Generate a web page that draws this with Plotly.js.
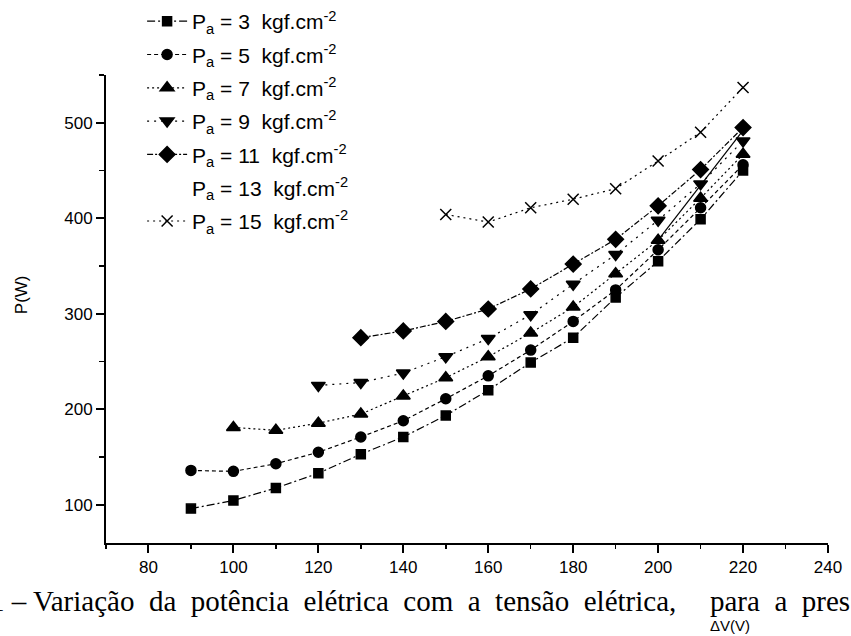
<!DOCTYPE html>
<html>
<head>
<meta charset="utf-8">
<script src="https://cdn.plot.ly/plotly-3.0.1.min.js"></script>
<style>html,body{margin:0;padding:0;background:#fff;}#chart{width:851px;height:636px;}</style>
</head>
<body>
<div id="chart"></div>
<script>
// Voltage (V) and electrical power (W) for each pressure
const volts3 = [90, 100, 110, 120, 130, 140, 150, 160, 170, 180, 190, 200, 210, 220];
const power3 = [96, 104.5, 117.5, 133, 153, 171, 193.5, 220, 249, 275, 317, 355, 399, 450];
const volts5 = [90, 100, 110, 120, 130, 140, 150, 160, 170, 180, 190, 200, 210, 220];
const power5 = [136, 135, 143, 155, 171, 188, 211, 235, 262, 292, 325, 367, 411, 456];
const volts7 = [100, 110, 120, 130, 140, 150, 160, 170, 180, 190, 200, 210, 220];
const power7 = [181, 178, 185.5, 195, 214, 233, 255, 280, 307, 342, 377, 421, 467];
const volts9 = [120, 130, 140, 150, 160, 170, 180, 190, 200, 210, 220];
const power9 = [225, 228, 238, 255, 274, 299, 331, 362, 398, 436, 481];
const volts11 = [130, 140, 150, 160, 170, 180, 190, 200, 210, 220];
const power11 = [275, 282, 292, 305, 326, 352, 378, 413, 451, 495];
const volts13 = [200, 210, 220];
const power13 = [377, 434, 492];
const volts15 = [150, 160, 170, 180, 190, 200, 210, 220];
const power15 = [404, 396, 411, 420, 431, 460, 490, 537];

const seriesNames = [
  'P<sub>a</sub> = 3  kgf.cm<sup>-2</sup>',
  'P<sub>a</sub> = 5  kgf.cm<sup>-2</sup>',
  'P<sub>a</sub> = 7  kgf.cm<sup>-2</sup>',
  'P<sub>a</sub> = 9  kgf.cm<sup>-2</sup>',
  'P<sub>a</sub> = 11  kgf.cm<sup>-2</sup>',
  'P<sub>a</sub> = 13  kgf.cm<sup>-2</sup>',
  'P<sub>a</sub> = 15  kgf.cm<sup>-2</sup>'
];

const xTickVals = [80, 100, 120, 140, 160, 180, 200, 220, 240];
const yTickVals = [100, 200, 300, 400, 500];

const NB = '\u00A0';
const captionMain = '1 – Variação ' + NB + 'da ' + NB + 'potência ' + NB + 'elétrica ' + NB + 'com ' + NB + 'a ' + NB + 'tensão ' + NB + 'elétrica,';
const captionEnd = 'para ' + NB + 'a ' + NB + 'pres';
const xTitle = 'ΔV(V)';
const yTitle = 'P(W)';

function tr(x, y, name, symbol, size, dash, grp) {
  return {
    x: x, y: y, name: name, type: 'scatter', mode: 'lines+markers',
    legendgroup: grp,
    line: {color: '#000', width: 1.2, dash: dash},
    marker: {symbol: symbol, size: size, color: '#000', line: {color: '#000', width: 1.5}}
  };
}

const data = [
  tr(volts3, power3, seriesNames[0], 'square', 9, '8px,3px,2px,3px', 'g1'),
  tr(volts5, power5, seriesNames[1], 'circle', 10, '4px,3px', 'g2'),
  tr(volts7, power7, seriesNames[2], 'triangle-up', 12, '2px,3px', 'g3'),
  tr(volts9, power9, seriesNames[3], 'triangle-down', 12, '2px,5px', 'g4'),
  tr(volts11, power11, seriesNames[4], 'diamond', 12, '6px,2px,2px,2px', 'g5'),
  {x: volts13, y: power13, name: seriesNames[5], type: 'scatter', mode: 'lines', showlegend: false,
   legendgroup: 'g6', line: {color: '#000', width: 1.2}},
  {x: [null], y: [null], name: seriesNames[5], type: 'scatter', mode: 'none', legendgroup: 'g6', showlegend: true},
  tr(volts15, power15, seriesNames[6], 'x-thin-open', 11, '2px,4px', 'g7')
];

const tickFont = {family: 'Liberation Sans, Arial, sans-serif', size: 17, color: '#000'};

const layout = {
  width: 851, height: 636,
  margin: {l: 106, r: 23, t: 75, b: 93, autoexpand: false},
  paper_bgcolor: '#fff', plot_bgcolor: '#fff',
  font: {family: 'Liberation Sans, Arial, sans-serif', color: '#000'},
  xaxis: {
    range: [70, 240], tickvals: xTickVals, ticktext: xTickVals.map(String),
    showgrid: false, zeroline: false, showline: true, linecolor: '#000', linewidth: 2,
    ticks: 'outside', ticklen: 8, tickwidth: 2, tickcolor: '#000', tickfont: tickFont,
    minor: {dtick: 10, tick0: 0, ticks: 'outside', ticklen: 4, tickwidth: 1.5, tickcolor: '#000'}
  },
  yaxis: {
    range: [60, 550], tickvals: yTickVals, ticktext: yTickVals.map(String),
    showgrid: false, zeroline: false, showline: true, linecolor: '#000', linewidth: 2,
    ticks: 'outside', ticklen: 8, tickwidth: 2, tickcolor: '#000', tickfont: tickFont,
    minor: {dtick: 50, tick0: 0, ticks: 'outside', ticklen: 5, tickwidth: 1.5, tickcolor: '#000'}
  },
  legend: {
    x: 0.05, y: 1.158, xanchor: 'left', yanchor: 'top',
    bgcolor: 'rgba(0,0,0,0)', borderwidth: 0,
    font: {family: 'Liberation Sans, Arial, sans-serif', size: 21, color: '#000'},
    tracegroupgap: 3, itemwidth: 40
  },
  showlegend: true,
  annotations: [
    {xref: 'paper', yref: 'paper', x: -0.163, y: -0.123, xanchor: 'left', yanchor: 'middle', showarrow: false,
     text: captionMain, font: {family: 'Liberation Serif, Times New Roman, serif', size: 29, color: '#000'}},
    {xref: 'paper', yref: 'paper', x: 0.834, y: -0.123, xanchor: 'left', yanchor: 'middle', showarrow: false,
     text: captionEnd, font: {family: 'Liberation Serif, Times New Roman, serif', size: 29, color: '#000'}},
    {xref: 'paper', yref: 'paper', x: 0.864, y: -0.177, xanchor: 'center', yanchor: 'middle', showarrow: false,
     text: xTitle, font: {family: 'Liberation Sans, Arial, sans-serif', size: 15, color: '#000'}},
    {xref: 'paper', yref: 'paper', x: -0.116, y: 0.53, xanchor: 'center', yanchor: 'middle', showarrow: false,
     textangle: -90, text: yTitle, font: {family: 'Liberation Sans, Arial, sans-serif', size: 17, color: '#000'}}
  ]
};

Plotly.newPlot('chart', data, layout, {displayModeBar: false, staticPlot: true});
</script>
</body>
</html>
